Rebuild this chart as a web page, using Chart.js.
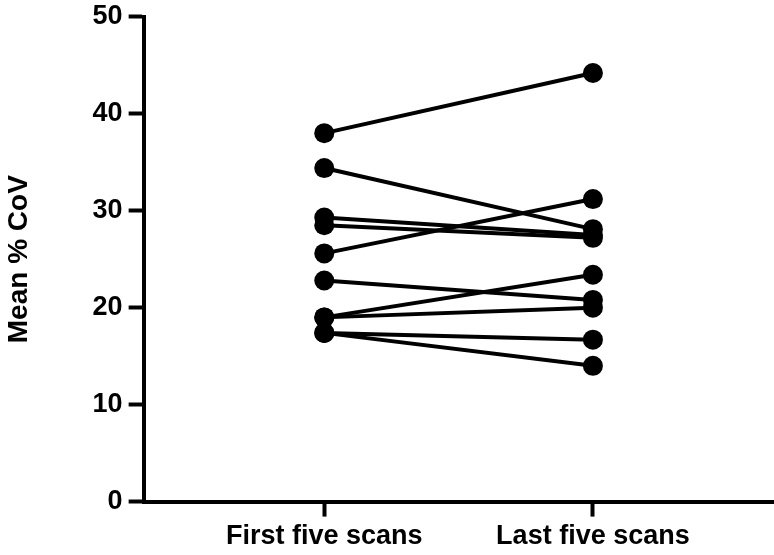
<!DOCTYPE html>
<html>
<head>
<meta charset="utf-8">
<script src="https://cdn.jsdelivr.net/npm/chart.js@4"></script>
<style>
  html, body { margin: 0; padding: 0; background: #fff; }
  #wrap { width: 774px; height: 555px; }
</style>
</head>
<body>
<div id="wrap"><canvas id="chart" width="774" height="555"></canvas></div>
<script>
const groups = ['First five scans', 'Last five scans'];
// one entry per subject, paired by index
const firstScans = [38.0, 34.4, 29.3, 28.5, 25.6, 22.8, 19.0, 19.0, 17.4, 17.4];
const lastScans  = [44.2, 28.1, 27.5, 27.2, 31.2, 20.8, 23.4, 20.0, 16.7, 14.0];
const yTicks = [0, 10, 20, 30, 40, 50];

const font = { family: "'Liberation Sans', Arial, sans-serif", weight: 'bold' };

const datasets = firstScans.map((v, i) => ({
    data: [{ x: 1, y: v }, { x: 2, y: lastScans[i] }],
    showLine: true,
    borderColor: '#000',
    borderWidth: 4,
    pointRadius: 10,
    pointHoverRadius: 10,
    pointBackgroundColor: '#000',
    pointBorderWidth: 0
}));

new Chart(document.querySelector('#chart').getContext('2d'), {
    type: 'scatter',
    data: { datasets: datasets },
    options: {
        responsive: false,
        animation: false,
        clip: false,
        layout: { autoPadding: false, padding: { top: 0, right: 0, left: 2, bottom: -2 } },
        plugins: { legend: { display: false }, tooltip: { enabled: false } },
        scales: {
            x: {
                type: 'linear',
                min: 0.3277,
                max: 2.674,
                afterBuildTicks: axis => { axis.ticks = [{ value: 1 }, { value: 2 }]; },
                ticks: {
                    callback: v => groups[v - 1],
                    color: '#000',
                    font: { ...font, size: 27 },
                    padding: 4,
                    maxRotation: 0
                },
                grid: { drawOnChartArea: false, tickLength: 15, tickWidth: 4, tickColor: '#000' },
                border: { width: 4, color: '#000' }
            },
            y: {
                min: 0,
                max: 50,
                afterBuildTicks: axis => { axis.ticks = yTicks.map(v => ({ value: v })); },
                ticks: { color: '#000', font: { ...font, size: 27, lineHeight: 0.8 }, padding: 6 },
                grid: { drawOnChartArea: false, tickLength: 15, tickWidth: 4, tickColor: '#000' },
                border: { width: 4, color: '#000' },
                title: {
                    display: true,
                    text: 'Mean % CoV',
                    color: '#000',
                    font: { ...font, size: 28 },
                    padding: { top: 0, bottom: 51 }
                }
            }
        }
    }
});
</script>
</body>
</html>
